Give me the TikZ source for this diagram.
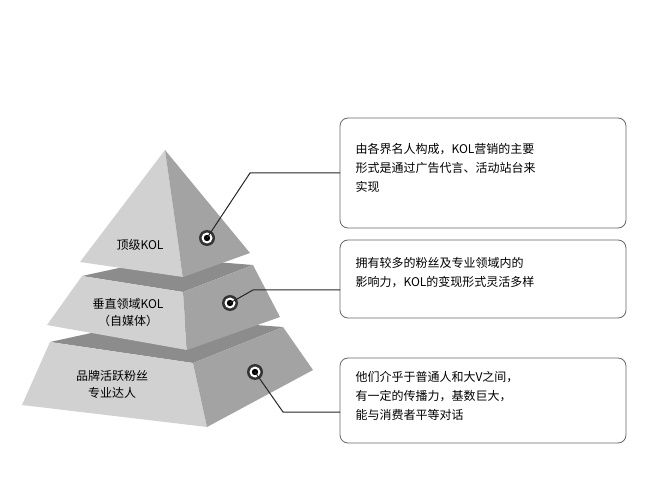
\documentclass[tikz,border=0pt]{standalone}
\usepackage{fontspec}
\setmainfont{Liberation Serif}
\newfontfamily\cjk{Noto Sans CJK SC}
\usetikzlibrary{positioning}
\tikzset{
  leftface/.style={fill=black!18},
  rightface/.style={fill=black!36},
  topface/.style={fill=black!45},
  infobox/.style={draw=black!60, rounded corners=8pt, line width=0.8pt},
  infotext/.style={anchor=north west, align=left, font=\cjk\fontsize{12}{19}\selectfont, text width=260pt},
  tiertext/.style={align=center, font=\cjk\fontsize{12}{17}\selectfont},
  leader/.style={draw=black!85, line width=1pt},
}
\begin{document}
\begin{tikzpicture}[x=1pt,y=-1pt]
        \useasboundingbox (0,0) rectangle (653,478);

        % bottom tier
        \fill[topface] (50,342) -- (193,363) -- (283,327) -- (160,318) -- cycle;
        \fill[leftface] (50,342) -- (193,363) -- (207,427) -- (22,405) -- cycle;
        \fill[rightface] (193,363) -- (283,327) -- (313,370) -- (207,427) -- cycle;

        % middle tier
        \fill[topface] (82,276) -- (183,292) -- (253,265) -- (165,258) -- cycle;
        \fill[leftface] (82,276) -- (183,292) -- (187,350) -- (47,325) -- cycle;
        \fill[rightface] (183,292) -- (253,265) -- (280,317) -- (187,350) -- cycle;

        % top tier
        \fill[leftface] (165,150) -- (183,277) -- (80,262) -- cycle;
        \fill[rightface] (165,150) -- (250,253) -- (183,277) -- cycle;

        % labels
        \node[tiertext] (topl) at (140,245) {顶级KOL};
        \node[tiertext] (midl) at (128,313) {垂直领域KOL\\（自媒体）};
        \node[tiertext] (botl) at (112,384) {品牌活跃粉丝\\专业达人};

        % dots
        \foreach \n/\x/\y in {dtop/207/238, dmid/230/303, dbot/255/372} {
          \fill[black!80] (\x,\y) circle (8);
          \fill[white] (\x,\y) circle (5.5);
          \fill[black] (\x,\y) circle (3.2);
          \coordinate (\n) at (\x,\y);
        }

        % boxes
        \draw[infobox] (340,118) rectangle (626,228);
        \draw[infobox] (340,240) rectangle (626,318);
        \draw[infobox] (340,358) rectangle (626,443);
        \coordinate (b1) at (340,173);
        \coordinate (b2) at (340,290);
        \coordinate (b3) at (340,412);
        \node[infotext] (t1) at (352,140) {由各界名人构成，KOL营销的主要\\形式是通过广告代言、活动站台来\\实现};
        \node[infotext] (t2) at (352,254) {拥有较多的粉丝及专业领域内的\\影响力，KOL的变现形式灵活多样};
        \node[infotext] (t3) at (352,368) {他们介乎于普通人和大V之间，\\有一定的传播力，基数巨大，\\能与消费者平等对话};

        % leaders
        \draw[leader] (dtop) -- (250,173) -- (b1);
        \draw[leader] (dmid) -- (253,290) -- (b2);
        \draw[leader] (dbot) -- (283,412) -- (b3);
\end{tikzpicture}
\end{document}
